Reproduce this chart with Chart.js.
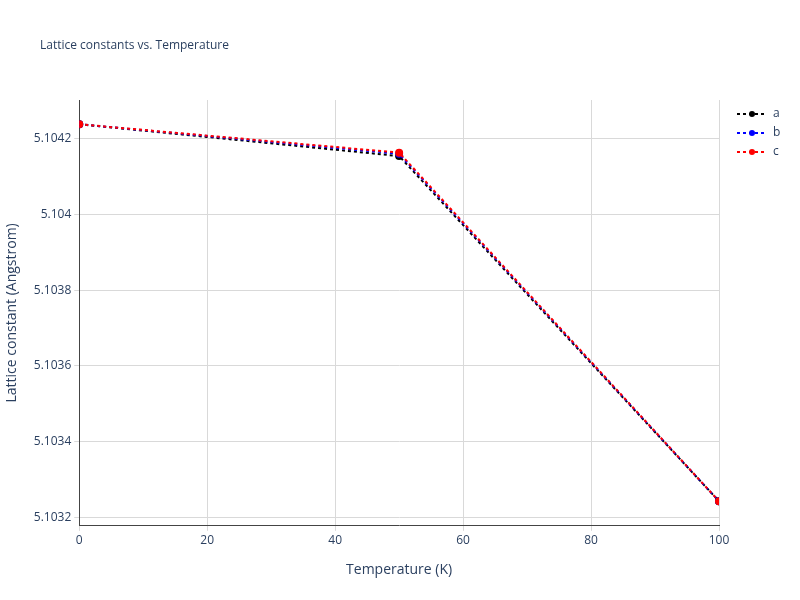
<!DOCTYPE html>
<html>
<head>
<meta charset="utf-8">
<script src="https://cdn.jsdelivr.net/npm/chart.js@4"></script>
<style>
  body { margin: 0; background: #fff; }
  #wrap { width: 800px; height: 600px; position: relative; }
</style>
</head>
<body>
<div id="wrap"><canvas id="chart"></canvas></div>
<script>
// Temperatures (K) and lattice constants (Angstrom)
const temperatures = [0, 50, 100];
const latticeA = [5.104238, 5.104154, 5.103243];
const latticeB = [5.104238, 5.104160, 5.103243];
const latticeC = [5.104238, 5.104163, 5.103243];
const yTicks = [5.1032, 5.1034, 5.1036, 5.1038, 5.104, 5.1042];
const seriesNames = ['a', 'b', 'c'];
const seriesColors = ['#000000', '#0000ff', '#ff0000'];

const textColor = '#2a3f5f';
const fontFamily = '"Open Sans", Arial, sans-serif';
const font = { family: fontFamily, size: 12 };

function toPoints(vals) {
    return temperatures.map((t, i) => ({ x: t, y: vals[i] }));
}

// later series drawn on top, like the reference
const datasets = [latticeA, latticeB, latticeC].map((vals, i) => ({
    label: seriesNames[i],
    data: toPoints(vals),
    borderColor: seriesColors[i],
    backgroundColor: seriesColors[i],
    borderWidth: 2,
    borderDash: [3, 3],
    pointRadius: 3,
    pointHoverRadius: 4,
    tension: 0,
    order: 3 - i
}));

// title and legend drawn plotly-style
const decorPlugin = {
    id: 'decor',
    afterDraw(chart) {
        const c = chart.ctx;
        c.save();
        c.fillStyle = textColor;
        c.font = '12px ' + fontFamily;
        c.textBaseline = 'middle';
        c.fillText('Lattice constants vs. Temperature', 40, 46);
        seriesNames.forEach((name, i) => {
            const y = 114 + i * 19;
            c.strokeStyle = seriesColors[i];
            c.lineWidth = 2;
            c.setLineDash([3, 3]);
            c.beginPath();
            c.moveTo(737, y);
            c.lineTo(767, y);
            c.stroke();
            c.setLineDash([]);
            c.fillStyle = seriesColors[i];
            c.beginPath();
            c.arc(752, y, 3, 0, Math.PI * 2);
            c.fill();
            c.fillStyle = textColor;
            c.fillText(name, 773, y);
        });
        c.restore();
    }
};

const ctx = document.getElementById('chart').getContext('2d');
new Chart(ctx, {
    type: 'line',
    data: { datasets: datasets },
    plugins: [decorPlugin],
    options: {
        responsive: true,
        maintainAspectRatio: false,
        animation: false,
        layout: { padding: { left: 0, right: 81, top: 100, bottom: 18 } },
        plugins: {
            legend: { display: false },
            tooltip: { mode: 'index', intersect: false }
        },
        scales: {
            x: {
                type: 'linear',
                min: 0,
                max: 100,
                ticks: { stepSize: 20, color: textColor, font: font },
                grid: { color: '#d9d9d9', tickLength: 5 },
                border: { color: '#444' },
                title: {
                    display: true,
                    text: 'Temperature (K)',
                    color: textColor,
                    font: { family: fontFamily, size: 14 },
                    padding: { top: 10 }
                }
            },
            y: {
                min: 5.103178,
                max: 5.104302,
                afterBuildTicks: axis => { axis.ticks = yTicks.map(v => ({ value: v })); },
                ticks: {
                    color: textColor,
                    font: font,
                    callback: v => parseFloat(v.toFixed(4)).toString()
                },
                grid: { color: '#d9d9d9', tickLength: 5 },
                border: { color: '#444' },
                title: {
                    display: true,
                    text: 'Lattice constant (Angstrom)',
                    color: textColor,
                    font: { family: fontFamily, size: 14 },
                    padding: { bottom: 10 }
                }
            }
        }
    }
});
</script>
</body>
</html>
